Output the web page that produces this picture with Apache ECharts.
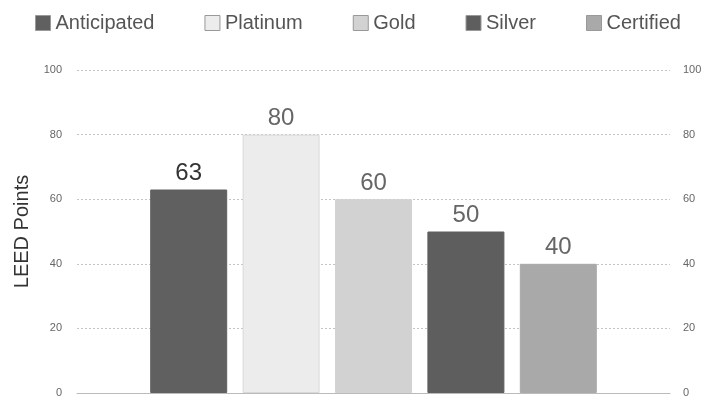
<!DOCTYPE html>
<html>
<head>
<meta charset="utf-8">
<script src="https://cdn.jsdelivr.net/npm/echarts@6/dist/echarts.min.js"></script>
<style>
  html, body { margin: 0; padding: 0; background: #fff; }
  #main { width: 710px; height: 403px; }
</style>
</head>
<body>
<div id="main"></div>
<script>
var seriesNames = ['Anticipated', 'Platinum', 'Gold', 'Silver', 'Certified']
var seriesValues = [63, 80, 60, 50, 40]
var yTicks = [0, 20, 40, 60, 80, 100]
var colors = ['#606060', '#ececec', '#d2d2d2', '#5e5e5e', '#a9a9a9']
var labelColors = ['#333333', '#666666', '#666666', '#666666', '#666666']

var chart = echarts.init(document.getElementById('main'))

var series = seriesNames.map(function (name, i) {
    return {
        name: name,
        type: 'bar',
        data: [seriesValues[i]],
        barWidth: 77,
        barGap: '20%',
        itemStyle: {
            color: colors[i],
            borderColor: i === 1 ? '#d8d8d8' : colors[i],
            borderWidth: 1
        },
        label: {
            show: true,
            position: 'top',
            distance: 4,
            fontSize: 24,
            fontFamily: 'Liberation Sans',
            color: labelColors[i]
        }
    }
})

function yAxis(pos, showName) {
    return {
        type: 'value',
        position: pos,
        min: yTicks[0],
        max: yTicks[yTicks.length - 1],
        interval: 20,
        name: showName ? 'LEED Points' : '',
        nameLocation: 'middle',
        nameGap: 45,
        nameTextStyle: { fontSize: 20, color: '#333', fontFamily: 'Liberation Sans' },
        axisLine: { show: false },
        axisTick: { show: false },
        axisLabel: { fontSize: 11, color: '#666', margin: pos === 'left' ? 15 : 13, fontFamily: 'Liberation Sans' },
        splitLine: { show: showName, lineStyle: { color: '#c4c4c4', type: [2, 2], width: 1 } }
    }
}

var option = {
    animation: false,
    legend: {
        top: 8,
        left: 30,
        itemWidth: 15,
        itemHeight: 15,
        itemGap: 50,
        icon: 'rect',
        textStyle: { fontSize: 20, color: '#555', fontFamily: 'Liberation Sans' },
        data: seriesNames.map(function (n, i) {
            return { name: n, itemStyle: { borderColor: '#999', borderWidth: 1 } }
        })
    },
    grid: { left: 77, right: 40, top: 70, bottom: 10 },
    xAxis: {
        type: 'category',
        data: [''],
        axisLine: { lineStyle: { color: '#bbb' } },
        axisTick: { show: false },
        axisLabel: { show: false }
    },
    yAxis: [yAxis('left', true), yAxis('right', false)],
    series: series
}

chart.setOption(option)
</script>
</body>
</html>
